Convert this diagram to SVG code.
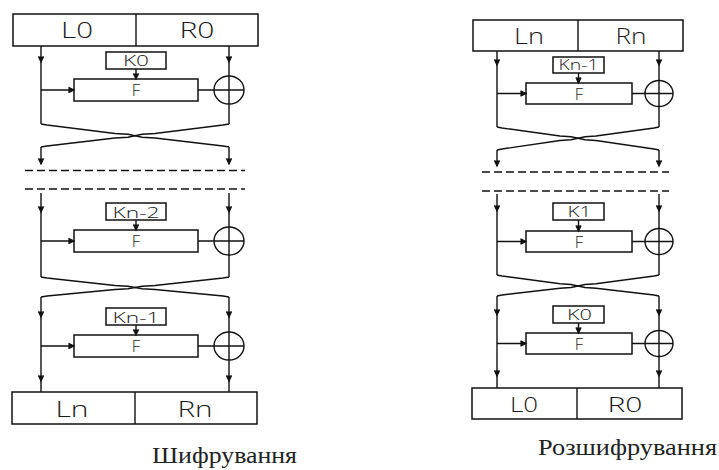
<svg xmlns="http://www.w3.org/2000/svg" xmlns:xlink="http://www.w3.org/1999/xlink" width="719" height="470" viewBox="0 0 719 470">
  <defs>
    <style>
      .ln { fill: none; stroke: #111; stroke-width: 1.4; }
      .box { fill: #fff; stroke: #111; stroke-width: 1.5; }
      .dash { fill: none; stroke: #111; stroke-width: 1.4; stroke-dasharray: 8 4; }
      .lbl { font-family: "Open Sans", "Liberation Sans", Arial, sans-serif; font-weight: 300; fill: #1a1a1a; text-anchor: middle; }
      .big { font-size: 22px; }
      .mid { font-size: 20px; }
      .sm { font-size: 15px; }
      .f { font-size: 16.5px; }
      .cap { font-family: "Liberation Serif", "Times New Roman", serif; font-size: 23px; fill: #222; }
      .ah { fill: #111; stroke: #111; stroke-width: 1.2; stroke-linejoin: miter; }
    </style>
    <!-- small downward arrowhead, tip at origin -->
    <path id="ah" class="ah" d="M-2.6,-5.5 L0,0 L2.6,-5.5 M-1.3,-2.6 L1.3,-2.6 L0,0 Z"/>
  </defs>

  <!-- ===== Encryption (left) ===== -->
  <g id="enc-top">
    <rect class="box" x="13" y="14" width="245" height="32"/>
    <line class="ln" x1="136" y1="14" x2="136" y2="46"/>
    <text class="lbl big" x="77" y="38" textLength="32" lengthAdjust="spacingAndGlyphs">L0</text>
    <text class="lbl big" x="197" y="38" textLength="35" lengthAdjust="spacingAndGlyphs">R0</text>
  </g>

  <g id="enc-k0">
    <rect class="box" x="106" y="52" width="60" height="17"/>
    <text class="lbl sm" x="136" y="66" textLength="26" lengthAdjust="spacingAndGlyphs">K0</text>
  </g>
  <g id="enc-f1">
    <rect class="box" x="74" y="79" width="124" height="22"/>
    <text class="lbl f" x="136" y="95.5">F</text>
  </g>
  <g id="enc-xor1"><ellipse class="ln" cx="229" cy="90" rx="15" ry="14"/></g>

  <g id="enc-k2">
    <rect class="box" x="106" y="203" width="60" height="17"/>
    <text class="lbl sm" x="136" y="218" textLength="47" lengthAdjust="spacingAndGlyphs">Kn-2</text>
  </g>
  <g id="enc-f2">
    <rect class="box" x="74" y="230" width="124" height="22"/>
    <text class="lbl f" x="136" y="247">F</text>
  </g>
  <g id="enc-xor2"><ellipse class="ln" cx="229" cy="241" rx="15" ry="14"/></g>

  <g id="enc-k3">
    <rect class="box" x="106" y="308" width="60" height="17"/>
    <text class="lbl sm" x="136" y="323" textLength="47" lengthAdjust="spacingAndGlyphs">Kn-1</text>
  </g>
  <g id="enc-f3">
    <rect class="box" x="74" y="335" width="124" height="22"/>
    <text class="lbl f" x="136" y="352">F</text>
  </g>
  <g id="enc-xor3"><ellipse class="ln" cx="229" cy="346" rx="15" ry="14"/></g>

  <g id="enc-bottom">
    <rect class="box" x="12" y="392" width="245" height="32"/>
    <line class="ln" x1="135" y1="392" x2="135" y2="424"/>
    <text class="lbl big" x="72" y="417" textLength="33" lengthAdjust="spacingAndGlyphs">Ln</text>
    <text class="lbl big" x="195" y="417" textLength="35" lengthAdjust="spacingAndGlyphs">Rn</text>
  </g>
  <g id="enc-title"><text class="cap" x="152" y="463" textLength="145" lengthAdjust="spacingAndGlyphs">Шифрування</text></g>

  <!-- ===== Decryption (right) ===== -->
  <g id="dec-top">
    <rect class="box" x="473" y="20" width="210" height="31"/>
    <line class="ln" x1="578" y1="20" x2="578" y2="51"/>
    <text class="lbl big" x="529" y="44" textLength="30" lengthAdjust="spacingAndGlyphs">Ln</text>
    <text class="lbl big" x="631" y="44" textLength="31" lengthAdjust="spacingAndGlyphs">Rn</text>
  </g>

  <g id="dec-k1">
    <rect class="box" x="553" y="57" width="51" height="16"/>
    <text class="lbl sm" x="578.5" y="70" textLength="40" lengthAdjust="spacingAndGlyphs">Kn-1</text>
  </g>
  <g id="dec-f1">
    <rect class="box" x="526" y="83" width="106" height="21"/>
    <text class="lbl f" x="579" y="99.5">F</text>
  </g>
  <g id="dec-xor1"><ellipse class="ln" cx="659" cy="93.5" rx="14" ry="13"/></g>

  <g id="dec-k2">
    <rect class="box" x="553" y="203" width="51" height="17"/>
    <text class="lbl sm" x="579.5" y="217" textLength="24" lengthAdjust="spacingAndGlyphs">K1</text>
  </g>
  <g id="dec-f2">
    <rect class="box" x="526" y="231" width="106" height="21"/>
    <text class="lbl f" x="579" y="247.5">F</text>
  </g>
  <g id="dec-xor2"><ellipse class="ln" cx="659" cy="241.5" rx="14" ry="13"/></g>

  <g id="dec-k3">
    <rect class="box" x="553" y="306" width="51" height="17"/>
    <text class="lbl sm" x="579.5" y="320" textLength="25" lengthAdjust="spacingAndGlyphs">K0</text>
  </g>
  <g id="dec-f3">
    <rect class="box" x="526" y="333" width="106" height="21"/>
    <text class="lbl f" x="579" y="349.5">F</text>
  </g>
  <g id="dec-xor3"><ellipse class="ln" cx="659" cy="343.5" rx="14" ry="13"/></g>

  <g id="dec-bottom">
    <rect class="box" x="472" y="388" width="210" height="31"/>
    <line class="ln" x1="577" y1="388" x2="577" y2="419"/>
    <text class="lbl mid" x="524" y="412" textLength="28" lengthAdjust="spacingAndGlyphs">L0</text>
    <text class="lbl mid" x="625" y="412" textLength="35" lengthAdjust="spacingAndGlyphs">R0</text>
  </g>
  <g id="dec-title"><text class="cap" x="538" y="455" textLength="179" lengthAdjust="spacingAndGlyphs">Розшифрування</text></g>

  <!-- ===== Connectors ===== -->
  <g id="connectors">
    <!-- encryption: round 1 -->
    <path class="ln" d="M41,46 V124 M229,46 V124 M136,69 V79 M41,90 H74 M198,90 H244"/>
    <path class="ln" d="M41,124 L47,125 L115,133.5 L128,134.2 L142,137.2 L155,138 L223,146 L229,147"/>
    <path class="ln" d="M229,124 L223,125 L155,133.5 L142,134.2 L128,137.2 L115,138 L47,146 L41,147"/>
    <path class="ln" d="M41,147 V164 M229,147 V164"/>
    <line class="dash" x1="25" y1="170.5" x2="245" y2="170.5"/>
    <line class="dash" x1="25" y1="189" x2="245" y2="189"/>
    <!-- encryption: round n-1 -->
    <path class="ln" d="M41,193 V277 M229,193 V277 M136,220 V230 M41,241 H74 M198,241 H244"/>
    <path class="ln" d="M41,277 L47,278 L115,285.5 L128,286.2 L142,288.8 L155,289.5 L223,296 L229,297"/>
    <path class="ln" d="M229,277 L223,278 L155,285.5 L142,286.2 L128,288.8 L115,289.5 L47,296 L41,297"/>
    <!-- encryption: last round -->
    <path class="ln" d="M41,297 V392 M229,297 V392 M136,325 V335 M41,346 H74 M198,346 H244"/>

    <!-- decryption: round 1 -->
    <path class="ln" d="M497,51 V127 M659,51 V127 M578.5,73 V83 M497,93.5 H526 M632,93.5 H673"/>
    <path class="ln" d="M497,127 L502,128 L560,136 L571,136.8 L585,139.8 L596,140.5 L654,149 L659,150"/>
    <path class="ln" d="M659,127 L654,128 L596,136 L585,136.8 L571,139.8 L560,140.5 L502,149 L497,150"/>
    <path class="ln" d="M497,150 V166 M659,150 V166"/>
    <line class="dash" x1="482" y1="172" x2="669" y2="172"/>
    <line class="dash" x1="482" y1="191" x2="669" y2="191"/>
    <!-- decryption: round 2 -->
    <path class="ln" d="M497,194 V275 M659,194 V275 M578.5,220 V231 M497,241.5 H526 M632,241.5 H673"/>
    <path class="ln" d="M497,275 L502,276 L560,283.8 L571,284.5 L585,287.5 L596,288.2 L654,295 L659,296"/>
    <path class="ln" d="M659,275 L654,276 L596,283.8 L585,284.5 L571,287.5 L560,288.2 L502,295 L497,296"/>
    <!-- decryption: last round -->
    <path class="ln" d="M497,296 V388 M659,296 V388 M578.5,323 V333 M497,343.5 H526 M632,343.5 H673"/>

    <!-- arrowheads -->
    <use xlink:href="#ah" transform="translate(41,62)"/>
    <use xlink:href="#ah" transform="translate(229,62)"/>
    <use xlink:href="#ah" transform="translate(136,79)"/>
    <use xlink:href="#ah" transform="translate(74,90) rotate(-90)"/>
    <use xlink:href="#ah" transform="translate(41,164)"/>
    <use xlink:href="#ah" transform="translate(229,164)"/>
    <use xlink:href="#ah" transform="translate(41,212)"/>
    <use xlink:href="#ah" transform="translate(229,212)"/>
    <use xlink:href="#ah" transform="translate(136,230)"/>
    <use xlink:href="#ah" transform="translate(74,241) rotate(-90)"/>
    <use xlink:href="#ah" transform="translate(41,317)"/>
    <use xlink:href="#ah" transform="translate(229,317)"/>
    <use xlink:href="#ah" transform="translate(136,335)"/>
    <use xlink:href="#ah" transform="translate(74,346) rotate(-90)"/>
    <use xlink:href="#ah" transform="translate(41,381)"/>
    <use xlink:href="#ah" transform="translate(229,381)"/>

    <use xlink:href="#ah" transform="translate(497,65)"/>
    <use xlink:href="#ah" transform="translate(659,65)"/>
    <use xlink:href="#ah" transform="translate(578.5,83)"/>
    <use xlink:href="#ah" transform="translate(526,93.5) rotate(-90)"/>
    <use xlink:href="#ah" transform="translate(497,166)"/>
    <use xlink:href="#ah" transform="translate(659,166)"/>
    <use xlink:href="#ah" transform="translate(497,211)"/>
    <use xlink:href="#ah" transform="translate(659,211)"/>
    <use xlink:href="#ah" transform="translate(578.5,231)"/>
    <use xlink:href="#ah" transform="translate(526,241.5) rotate(-90)"/>
    <use xlink:href="#ah" transform="translate(497,315)"/>
    <use xlink:href="#ah" transform="translate(659,315)"/>
    <use xlink:href="#ah" transform="translate(578.5,333)"/>
    <use xlink:href="#ah" transform="translate(526,343.5) rotate(-90)"/>
    <use xlink:href="#ah" transform="translate(497,376)"/>
    <use xlink:href="#ah" transform="translate(659,376)"/>
  </g>
</svg>
